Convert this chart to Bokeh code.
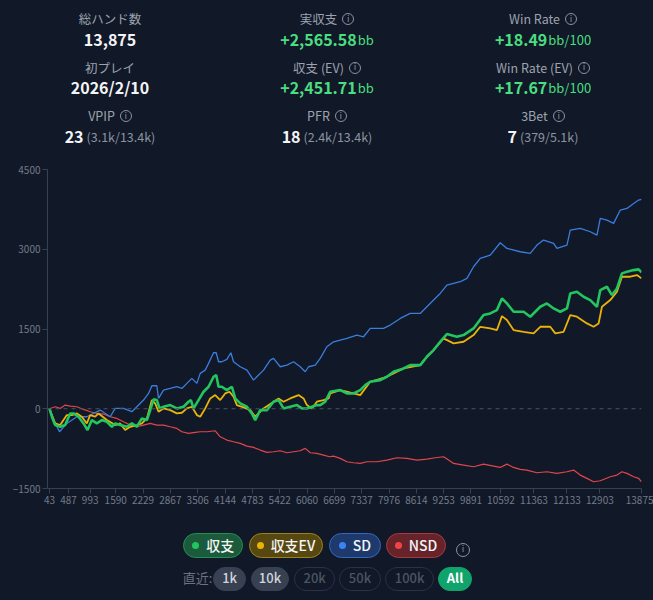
from bokeh.plotting import figure
from bokeh.models import (Range1d, FixedTicker, Span, Div, GlobalInlineStyleSheet)
from bokeh.layouts import column
from bokeh.embed import file_html
from bokeh.resources import INLINE

# ---------------- data ----------------
x_ticks = [43, 487, 993, 1590, 2229, 2867, 3506, 4144, 4783, 5422, 6060, 6699,
           7337, 7976, 8614, 9253, 9891, 10592, 11363, 12133, 12903, 13875]
y_ticks = [-1500, 0, 1500, 3000, 4500]

sd_hands = [43, 136, 277, 448, 682, 915, 1227, 1461, 1578, 1772, 1967, 2084, 2240, 2357,
            2435, 2551, 2590, 2707, 2863, 3019, 3136, 3252, 3369, 3486, 3564, 3681, 3759,
            3876, 3938, 3993, 4070, 4187, 4281, 4343, 4499, 4655, 4810, 4888, 5044, 5200,
            5278, 5434, 5589, 5745, 5901, 6018, 6096, 6252, 6368, 6524, 6680, 6835, 6991,
            7225, 7381, 7537, 7848, 8004, 8238, 8471, 8705, 8861, 9017, 9172, 9328, 9640,
            9796, 9951, 10107, 10341, 10575, 10730, 11042, 11276, 11432, 11587, 11821,
            11899, 12133, 12211, 12444, 12678, 12834, 12912, 13067, 13223, 13379, 13535,
            13691, 13808, 13875]
sd_values = [0, -213, -433, -276, -150, -150, -25, -150, 6, 6, -56, 38, 163, 288,
             433, 433, 194, 351, 382, 414, 382, 477, 571, 477, 665, 727, 853,
             1053, 1053, 884, 884, 928, 1053, 884, 790, 727, 539, 602, 727, 915,
             947, 790, 821, 884, 790, 696, 790, 821, 947, 1166, 1260, 1292, 1323,
             1386, 1354, 1511, 1511, 1574, 1699, 1793, 1793, 1919, 2044, 2169, 2326, 2389,
             2452, 2671, 2828, 2890, 3122, 3016, 2953, 2922, 3079, 3173, 3110,
             3016, 3079, 3361, 3392, 3329, 3267, 3580, 3549, 3486, 3737, 3768,
             3862, 3925, 3938]

pl_hands = [43, 98, 175, 292, 409, 526, 604, 721, 838, 931, 1032, 1149, 1266, 1383,
            1500, 1578, 1695, 1850, 1967, 2084, 2201, 2318, 2396, 2474, 2551, 2614, 2707,
            2863, 3019, 3175, 3291, 3346, 3408, 3525, 3642, 3759, 3876, 3938, 3993, 4070,
            4187, 4304, 4382, 4499, 4655, 4771, 4849, 4966, 5122, 5278, 5395, 5511, 5667,
            5823, 5940, 6057, 6174, 6290, 6368, 6485, 6602, 6835, 6991, 7147, 7303, 7420,
            7537, 7770, 7926, 8082, 8316, 8471, 8705, 8861, 9017, 9172, 9328, 9562, 9718,
            9951, 10185, 10341, 10497, 10614, 10730, 10886, 11120, 11276, 11509, 11665,
            11821, 11977, 12133, 12211, 12366, 12522, 12678, 12834, 12912, 13067, 13184,
            13301, 13418, 13535, 13691, 13808, 13875]
pl_values = [0, -150, -307, -339, -307, -88, -88, -150, -276, -401, -213, -276, -213, -245,
             -339, -276, -307, -339, -276, -339, -182, -213, -25, 176, 163, 6, 38,
             69, 6, 38, 132, 163, 6, 163, 320, 414, 602, 633, 414, 414,
             351, 414, 194, 100, 38, -88, -213, -25, -25, 132, 163, 6, 38,
             69, 6, 6, 38, 69, 69, 132, 320, 351, 288, 288, 351, 445,
             508, 539, 602, 696, 759, 821, 821, 978, 1104, 1260, 1404, 1354, 1386,
             1511, 1762, 1793, 1856, 2075, 1981, 1825, 1825, 1731, 1919, 1981,
             1887, 1825, 1887, 2169, 2201, 2107, 2044, 1919, 2232, 2295, 2138,
             2263, 2546, 2577, 2608, 2621, 2566]

ev_hands = [43, 175, 292, 448, 565, 682, 799, 915, 993, 1110, 1188, 1383, 1578, 1695,
            1811, 1928, 2084, 2201, 2318, 2435, 2512, 2590, 2707, 2863, 3019, 3136, 3252,
            3369, 3486, 3564, 3681, 3798, 3915, 4032, 4148, 4249, 4343, 4421, 4577, 4733,
            4849, 5044, 5278, 5395, 5511, 5667, 5862, 5979, 6057, 6174, 6290, 6446, 6563,
            6602, 6835, 7147, 7303, 7537, 7926, 8316, 8705, 8861, 9017, 9250, 9484, 9718,
            9951, 10107, 10341, 10497, 10614, 10730, 10886, 11120, 11354, 11509, 11743,
            11860, 12055, 12211, 12366, 12600, 12756, 12873, 12951, 13145, 13301, 13418,
            13613, 13769, 13875]
ev_values = [0, -276, -307, -119, -119, -88, -150, -276, -119, -150, -88, -213, -307, -276,
             -401, -339, -307, -276, -182, 163, 100, -56, 6, -25, -88, -75, 6,
             38, -119, -150, 6, 194, 257, 163, 288, 320, 226, 69, 25, -25,
             -150, 6, 132, 194, 132, 194, 257, 194, 69, 6, 132, 163, 194,
             288, 351, 288, 257, 508, 602, 759, 821, 978, 1104, 1323, 1229, 1260,
             1386, 1542, 1511, 1480, 1743, 1668, 1480, 1448, 1417, 1542, 1542,
             1417, 1448, 1762, 1731, 1605, 1542, 1605, 1919, 2044, 2201, 2483,
             2483, 2514, 2452]

nsd_hands = [43, 175, 292, 409, 526, 682, 838, 993, 1149, 1305, 1461, 1617, 1772, 1928,
             2084, 2240, 2396, 2551, 2707, 2863, 3019, 3136, 3291, 3447, 3564, 3720, 3915,
             4032, 4187, 4343, 4499, 4655, 4810, 4966, 5122, 5278, 5434, 5589, 5745, 5901,
             6018, 6135, 6290, 6446, 6586, 6680, 6835, 6991, 7147, 7303, 7459, 7692, 7926,
             8160, 8393, 8627, 8861, 9056, 9250, 9367, 9484, 9718, 9951, 10185, 10419,
             10575, 10730, 10886, 11042, 11198, 11432, 11665, 11899, 12133, 12288, 12444,
             12600, 12756, 12912, 13145, 13301, 13418, 13535, 13691, 13808, 13875]
nsd_values = [0, 38, 6, 69, 50, 38, -13, -56, -88, -100, -150, -182, -245, -307,
              -339, -307, -276, -307, -307, -339, -370, -433, -464, -445, -433, -433, -414,
              -527, -589, -621, -652, -702, -727, -777, -821, -809, -790, -828, -809, -790,
              -746, -828, -840, -872, -903, -890, -934, -997, -1016, -1028, -997, -997, -966,
              -922, -934, -966, -947, -922, -903, -966, -1028, -1060, -1091, -1041, -1078,
              -1104, -1041, -1104, -1141, -1154, -1204, -1185, -1216, -1185, -1154, -1248,
              -1310, -1373, -1354, -1279, -1248, -1185, -1216, -1279, -1310, -1373]

BG = "#111827"
FONT = "Noto Sans CJK JP"
WIDTH = 653

# ---------------- chart ----------------
p = figure(width=WIDTH, height=372, output_backend="svg", toolbar_location=None,
           x_range=Range1d(-4, 13875), y_range=Range1d(-1500, 4500),
           min_border_left=47, min_border_right=12, min_border_top=21, min_border_bottom=32,
           background_fill_color=BG, border_fill_color=BG, outline_line_color=None)
p.xgrid.grid_line_color = None
p.ygrid.grid_line_color = None

for ax in (p.xaxis[0], p.yaxis[0]):
    ax.axis_line_color = "#374151"
    ax.major_tick_line_color = "#374151"
    ax.major_tick_out = 5
    ax.major_tick_in = 0
    ax.minor_tick_line_color = None
    ax.major_label_text_color = "#737b8a"
    ax.major_label_text_font = FONT
    ax.major_label_text_font_size = "10px"
    ax.major_label_standoff = 2
p.xaxis[0].ticker = FixedTicker(ticks=x_ticks)
p.yaxis[0].ticker = FixedTicker(ticks=y_ticks)

p.add_layout(Span(location=0, dimension="width", line_color="#4b5563",
                  line_dash="4 4", line_width=1))

p.line(nsd_hands, nsd_values, line_color="#e0464b", line_width=1.2)
p.line(sd_hands, sd_values, line_color="#3b7ddd", line_width=1.3)
p.line(ev_hands, ev_values, line_color="#eab308", line_width=1.8)
p.line(pl_hands, pl_values, line_color="#22c55e", line_width=2.6)

# ---------------- header ----------------
def icon(size=12):
    return ('<span style="display:inline-flex;align-items:center;justify-content:center;'
            'width:%dpx;height:%dpx;border:1.3px solid #8b93a1;border-radius:50%%;'
            'font-size:9px;line-height:1;color:#8b93a1;margin-left:5px;box-sizing:border-box;'
            'font-family:DejaVu Sans">i</span>' % (size, size))

def cell(cx, cy, html, h=22):
    return ('<div style="position:absolute;left:%dpx;width:200px;top:%.1fpx;height:%dpx;'
            'display:flex;align-items:center;justify-content:center;white-space:nowrap">%s</div>'
            % (cx - 100, cy - h / 2, h, html))

lab = '<span style="font-size:12.5px;color:#9ca3af">%s</span>'
big = '<span style="font-size:16px;font-weight:700;color:%s">%s</span>'
small = '<span style="font-size:13px;color:%s;margin-left:1px;margin-top:2px">%s</span>'
sub = '<span style="font-size:12.5px;color:#8b93a1;margin-left:3px;margin-top:1px">%s</span>'
W = "#f3f4f6"
G = "#4ade80"

cols = [110, 327, 543]
rows = [19, 39.5, 67.5, 87.5, 116, 136.5]
parts = [
    cell(cols[0], rows[0], lab % "総ハンド数"),
    cell(cols[0], rows[1], big % (W, "13,875")),
    cell(cols[0], rows[2], lab % "初プレイ"),
    cell(cols[0], rows[3], big % (W, "2026/2/10")),
    cell(cols[0], rows[4], lab % "VPIP" + icon()),
    cell(cols[0], rows[5], big % (W, "23") + sub % "(3.1k/13.4k)"),
    cell(cols[1], rows[0], lab % "実収支" + icon()),
    cell(cols[1], rows[1], big % (G, "+2,565.58") + small % (G, "bb")),
    cell(cols[1], rows[2], lab % "収支 (EV)" + icon()),
    cell(cols[1], rows[3], big % (G, "+2,451.71") + small % (G, "bb")),
    cell(cols[1], rows[4], lab % "PFR" + icon()),
    cell(cols[1], rows[5], big % (W, "18") + sub % "(2.4k/13.4k)"),
    cell(cols[2], rows[0], lab % "Win Rate" + icon()),
    cell(cols[2], rows[1], big % (G, "+18.49") + small % (G, "bb/100")),
    cell(cols[2], rows[2], lab % "Win Rate (EV)" + icon()),
    cell(cols[2], rows[3], big % (G, "+17.67") + small % (G, "bb/100")),
    cell(cols[2], rows[4], lab % "3Bet" + icon()),
    cell(cols[2], rows[5], big % (W, "7") + sub % "(379/5.1k)"),
]
header = Div(text='<div style="position:relative;width:%dpx;height:148px;font-family:\'%s\'">%s</div>'
             % (WIDTH, FONT, "".join(parts)), width=WIDTH, height=148, margin=(0, 0, 0, 0),
             stylesheets=[GlobalInlineStyleSheet(css="html,body{background:%s;}" % BG)])

# ---------------- footer ----------------
def pill(left, width, top, height, bg, border, inner, color="#f3f4f6", weight=500, fs=14):
    return ('<div style="position:absolute;left:%.1fpx;top:%.1fpx;width:%.1fpx;height:%.1fpx;'
            'box-sizing:border-box;border-radius:%dpx;background:%s;border:1px solid %s;'
            'display:flex;align-items:center;justify-content:center;font-size:%dpx;'
            'color:%s;font-weight:%d;white-space:nowrap">%s</div>'
            % (left, top, width, height, height // 2 + 1, bg, border, fs, color, weight, inner))

def dot(c):
    return ('<span style="display:inline-block;width:7px;height:7px;border-radius:50%%;'
            'background:%s;margin-right:7px"></span>' % c)

legend = [
    ("収支", "#22c55e", "#1b5a3a", "#238f52", 183.3, 60),
    ("収支EV", "#eab308", "#574811", "#9c821b", 249.3, 73.4),
    ("SD", "#3b82f6", "#1e3a6c", "#3566c0", 329.3, 51.4),
    ("NSD", "#ef4444", "#66232a", "#a8393f", 386.0, 60),
]
fparts = [pill(l, w, 12.7, 25, bg, bd, dot(c) + name) for name, c, bg, bd, l, w in legend]
fparts.append('<div style="position:absolute;left:456px;top:18.2px">%s</div>'
              % icon(14).replace("margin-left:5px", "margin-left:0"))
fparts.append('<div style="position:absolute;left:182.7px;top:46.7px;height:24px;display:flex;'
              'align-items:center;font-size:13px;color:#6b7280">直近:</div>')
ranges = [
    ("1k", 213.3, 32.7, "#374151", "#374151", "#d1d5db", 500),
    ("10k", 250.7, 38.6, "#374151", "#374151", "#d1d5db", 500),
    ("20k", 294.0, 41.3, "transparent", "#2a3341", "#4b5563", 500),
    ("50k", 339.3, 41.4, "transparent", "#2a3341", "#4b5563", 500),
    ("100k", 385.3, 48.7, "transparent", "#2a3341", "#4b5563", 500),
    ("All", 438.0, 34.0, "#10a36b", "#10a36b", "#ffffff", 700),
]
for name, l, w, bg, bd, col, wt in ranges:
    fparts.append(pill(l, w, 46.7, 24, bg, bd, name, col, wt, 13))
footer = Div(text='<div style="position:relative;width:%dpx;height:80px;font-family:\'%s\'">%s</div>'
             % (WIDTH, FONT, "".join(fparts)), width=WIDTH, height=80, margin=(0, 0, 0, 0))

layout = column(header, p, footer, spacing=0, styles={"background-color": BG})

open("out.html", "w").write(file_html(layout, INLINE))
